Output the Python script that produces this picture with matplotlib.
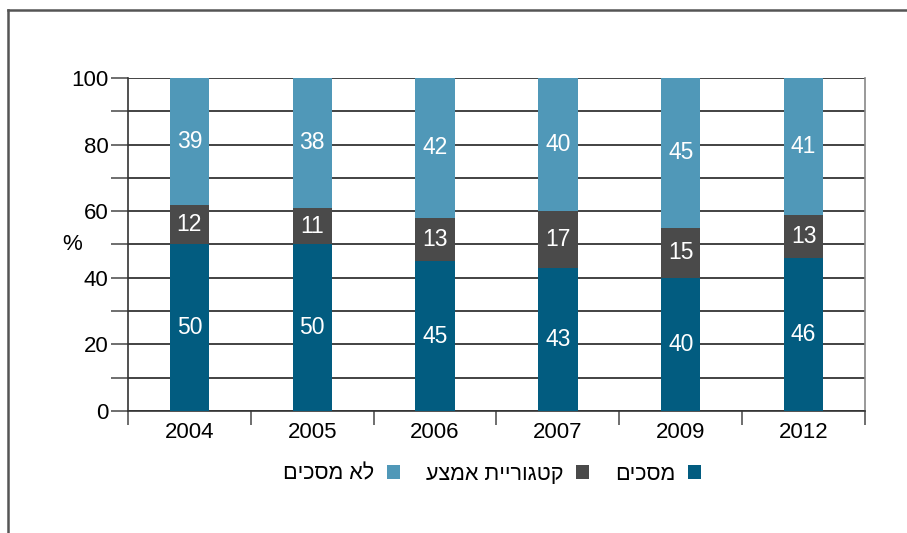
import matplotlib as mpl
mpl.use('Agg')
import matplotlib.pyplot as plt
from matplotlib.lines import Line2D
import numpy as np

years = ['2004', '2005', '2006', '2007', '2009', '2012']
agree = [50, 50, 45, 43, 40, 46]
middle = [12, 11, 13, 17, 15, 13]
disagree = [39, 38, 42, 40, 45, 41]
series_names = ['מסכים', 'קטגוריית אמצע', 'לא מסכים']
colors = ['#025c80', '#4a4a4a', '#5098b8']

plt.rcParams['font.family'] = ['Liberation Sans', 'DejaVu Sans']


def rtl(s):
    # matplotlib has no bidi support, so flip hebrew for display
    return s[::-1]


fig = plt.figure(figsize=(9.07, 5.33), dpi=100)
ax = fig.add_axes([0.1411, 0.2289, 0.8126, 0.6248])

# frame around the figure (only top and left show)
fig.add_artist(Line2D([8/907, 8/907], [0, 1 - 10/533], transform=fig.transFigure, color='#555555', lw=1.8))
fig.add_artist(Line2D([8/907, 1], [1 - 10/533, 1 - 10/533], transform=fig.transFigure, color='#555555', lw=1.8))

x = np.arange(len(years))
bottom = np.zeros(len(years))
series = [agree, middle, disagree]
for i, (vals, col, name) in enumerate(zip(series, colors, series_names)):
    vals = np.array(vals, dtype=float)
    # 100% stacked chart: the top segment fills up to 100 despite rounding
    h = 100 - bottom if i == len(series) - 1 else vals
    ax.bar(x, h, width=0.32, bottom=bottom, color=col, label=rtl(name), zorder=3)
    for xi, b, hh, v in zip(x, bottom, h, vals):
        ax.text(xi, b + hh / 2, str(int(v)), ha='center', va='center', color='white', fontsize=16.5, zorder=4)
    bottom = bottom + h

ax.set_xlim(-0.5, len(years) - 0.5)
ax.set_ylim(0, 100)
ax.set_yticks(range(0, 101, 20))
ax.set_yticks(range(10, 100, 20), minor=True)
ax.grid(axis='y', which='both', color='#222222', lw=1.2, zorder=1)
ax.tick_params(axis='y', which='both', direction='out', length=12, width=1.2, color='#555555', labelsize=16, pad=2)

ax.set_xticks(x)
ax.set_xticklabels(years)
ax.set_xticks(np.arange(-0.5, len(years), 1), minor=True)
ax.tick_params(axis='x', which='major', length=0, labelsize=16, pad=8)
ax.tick_params(axis='x', which='minor', direction='out', length=10, width=1.2, color='#555555')

for s in ['left', 'bottom']:
    ax.spines[s].set_color('#333333')
    ax.spines[s].set_linewidth(1.2)
ax.spines['right'].set_color('#888888')
ax.spines['right'].set_linewidth(1.2)
ax.spines['top'].set_visible(False)

ax.text(-0.076, 0.5, '%', transform=ax.transAxes, ha='center', va='center', fontsize=16)

handles, labels = ax.get_legend_handles_labels()
leg = ax.legend(handles[::-1], labels[::-1], loc='upper center', bbox_to_anchor=(0.494, -0.1), ncol=3,
                frameon=False, markerfirst=False, handlelength=0.6, handleheight=0.6,
                columnspacing=1.2, handletextpad=0.6, fontsize=15.5)

fig.savefig('out.png', dpi=100)
plt.close()
